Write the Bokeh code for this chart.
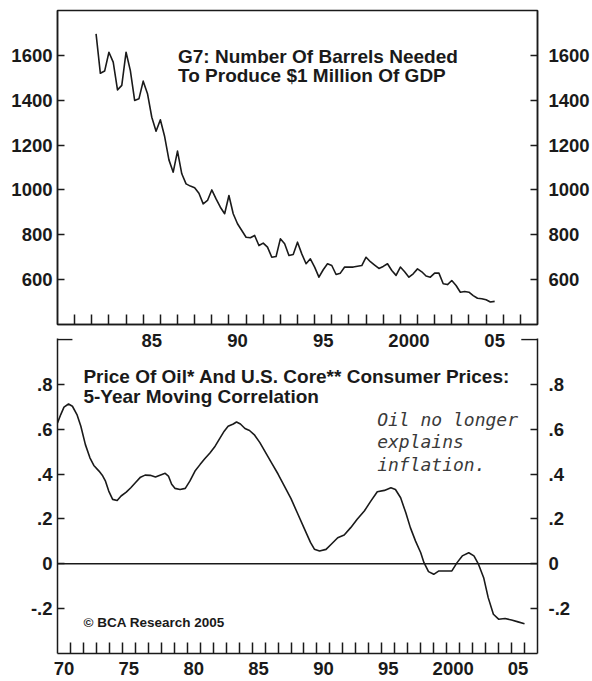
from bokeh.plotting import figure
from bokeh.models import FixedTicker, LinearAxis, Range1d, Span, Label
from bokeh.layouts import column
from bokeh.embed import file_html
from bokeh.resources import INLINE

# ---------------- data ----------------
# G7 barrels of oil needed per $1 million of GDP (quarterly, from 1982 Q2)
barrels_first_year = 1982.25
barrels = [1696, 1520, 1530,
           1614, 1570, 1446, 1466,
           1614, 1532, 1399, 1406,
           1485, 1429, 1324, 1262,
           1313, 1238, 1134, 1079,
           1173, 1072, 1027, 1017,
           1010, 985, 938, 953,
           1000, 960, 923, 894,
           975, 894, 849, 819,
           789, 787, 797, 752,
           763, 745, 700, 703,
           782, 760, 708, 712,
           767, 715, 671, 693,
           656, 611, 644, 671,
           663, 623, 629, 656,
           656, 656, 660, 663,
           700, 680, 665, 650,
           659, 671, 641, 619,
           656, 635, 611, 626,
           648, 635, 616, 611,
           629, 629, 582, 578,
           596, 574, 544, 547,
           544, 529, 517, 515,
           510, 500, 503]
barrels_years = [barrels_first_year + 0.25 * i for i in range(len(barrels))]

# 5-year moving correlation, oil price vs US core CPI
corr_years = [1970.0, 1970.25, 1970.5, 1970.85, 1971.15, 1971.5, 1971.8, 1972.15, 1972.5, 1972.8,
              1973.2, 1973.45, 1973.7, 1973.95, 1974.25, 1974.6, 1974.9, 1975.3, 1975.65, 1976.0,
              1976.4, 1976.75, 1977.15, 1977.55, 1977.9, 1978.3, 1978.55, 1978.8, 1979.05, 1979.45,
              1979.85, 1980.2, 1980.6, 1981.0, 1981.35, 1981.75, 1982.15, 1982.5, 1982.85, 1983.15,
              1983.55, 1983.8, 1984.1, 1984.45, 1984.8, 1985.2, 1985.6, 1986.0, 1986.5, 1987.0,
              1987.5, 1988.0, 1988.5, 1989.0, 1989.5, 1989.8, 1990.2, 1990.7, 1991.1, 1991.6,
              1992.1, 1992.6, 1993.1, 1993.65, 1994.15, 1994.65, 1995.2, 1995.7, 1996.05, 1996.45,
              1996.85, 1997.2, 1997.6, 1998.0, 1998.25, 1998.6, 1999.0, 1999.4, 1999.8, 2000.4,
              2000.8, 2001.2, 2001.7, 2002.1, 2002.45, 2002.85, 2003.2, 2003.6, 2004.0, 2004.5,
              2005.0, 2005.5, 2006.0]
corr_values = [0.628, 0.665, 0.698, 0.712, 0.702, 0.665, 0.613, 0.531, 0.472, 0.438,
               0.413, 0.395, 0.368, 0.324, 0.287, 0.282, 0.302, 0.319, 0.339, 0.361,
               0.386, 0.395, 0.394, 0.387, 0.395, 0.403, 0.391, 0.354, 0.336, 0.331,
               0.336, 0.368, 0.413, 0.443, 0.468, 0.494, 0.524, 0.558, 0.591, 0.613,
               0.623, 0.632, 0.623, 0.603, 0.594, 0.573, 0.540, 0.500, 0.450, 0.400,
               0.345, 0.290, 0.225, 0.160, 0.095, 0.065, 0.057, 0.064, 0.087, 0.116,
               0.128, 0.161, 0.198, 0.235, 0.279, 0.321, 0.327, 0.339, 0.331, 0.294,
               0.227, 0.161, 0.101, 0.049, 0.005, -0.035, -0.047, -0.032, -0.032, -0.032,
               0.005, 0.035, 0.049, 0.035, -0.002, -0.062, -0.151, -0.225, -0.247, -0.244,
               -0.251, -0.259, -0.267]

# axes: tick labels sit in the middle of each labelled year
top_label_years = [1985, 1990, 1995, 2000, 2005]
top_labels = ["85", "90", "95", "2000", "05"]
bot_label_years = [1970, 1975, 1980, 1985, 1990, 1995, 2000, 2005]
bot_labels = ["70", "75", "80", "85", "90", "95", "2000", "05"]
top_yticks = [600, 800, 1000, 1200, 1400, 1600]
bot_yticks = [-0.2, 0.0, 0.2, 0.4, 0.6, 0.8]
bot_ylabels = ["-.2", "0", ".2", ".4", ".6", ".8"]

top_title = ["G7: Number Of Barrels Needed", "To Produce $1 Million Of GDP"]
bot_title = ["Price Of Oil* And U.S. Core** Consumer Prices:", "5-Year Moving Correlation"]
note = ["Oil no longer", "explains", "inflation."]
credit = "\u00a9 BCA Research 2005"

FONT = "Liberation Sans"
INK = "#1a1a1a"
TICK_SIZE = "18.5px"


def style_axis(ax):
    ax.axis_line_color = INK
    ax.axis_line_width = 1.5
    ax.major_label_text_font = FONT
    ax.major_label_text_font_style = "bold"
    ax.major_label_text_font_size = TICK_SIZE
    ax.major_label_text_color = INK
    ax.major_tick_line_color = INK
    ax.major_tick_line_width = 1.5
    ax.minor_tick_line_color = INK
    ax.minor_tick_line_width = 1.5
    ax.major_tick_out = 0
    ax.minor_tick_out = 0


# ---------------- top panel ----------------
top = figure(width=592, height=364, x_range=Range1d(1980, 2008), y_range=Range1d(400, 1800),
             output_backend="svg", toolbar_location=None,
             min_border_left=57, min_border_right=53, min_border_top=10, min_border_bottom=40)
top.grid.visible = False
top.outline_line_color = INK
top.outline_line_width = 1.5
top.outline_line_alpha = 1.0
top.background_fill_color = "white"
top.border_fill_color = "white"

top.line(barrels_years, barrels, line_color=INK, line_width=1.6, line_join="round")

tx = top.xaxis[0]
tx.ticker = FixedTicker(ticks=[y + 0.5 for y in top_label_years],
                        minor_ticks=list(range(1981, 2008)))
tx.major_label_overrides = {y + 0.5: lab for y, lab in zip(top_label_years, top_labels)}
style_axis(tx)
tx.major_tick_in = 0
tx.minor_tick_in = 10
tx.major_label_standoff = 9

ty = top.yaxis[0]
ty.ticker = FixedTicker(ticks=top_yticks)
style_axis(ty)
ty.major_tick_in = 7
ty.minor_tick_in = 0
ty.major_label_standoff = 5

ty2 = LinearAxis(ticker=FixedTicker(ticks=top_yticks))
style_axis(ty2)
ty2.major_tick_in = 7
ty2.minor_tick_in = 0
ty2.major_label_standoff = 11
top.add_layout(ty2, "right")

for i, txt in enumerate(top_title):
    top.add_layout(Label(x=1987.03, y=1596 - 85 * i, text=txt, text_font=FONT,
                         text_font_style="bold", text_font_size="19px", text_color=INK,
                         text_baseline="alphabetic", text_align="left"))

# ---------------- bottom panel ----------------
bot = figure(width=592, height=347, x_range=Range1d(1970, 2007), y_range=Range1d(-0.4, 1.004),
             output_backend="svg", toolbar_location=None,
             min_border_left=57, min_border_right=53, min_border_top=4, min_border_bottom=28,
             margin=(-30, 0, -2, 0))
bot.grid.visible = False
bot.outline_line_color = None
bot.background_fill_alpha = 0
bot.border_fill_alpha = 0

bot.add_layout(Span(location=0, dimension="width", line_color=INK, line_width=1.3))
bot.line(corr_years, corr_values, line_color=INK, line_width=1.6, line_join="round")

# short corner pieces of the top border (the middle is left open for the labels above)
x0, x1 = bot.x_range.start, bot.x_range.end
bot.segment(x0=[x0, x1 - 1.25], y0=[1.0, 1.0], x1=[x0 + 1.15, x1], y1=[1.0, 1.0],
            line_color=INK, line_width=1.5)

bx = bot.xaxis[0]
bx.ticker = FixedTicker(ticks=[y + 0.5 for y in bot_label_years],
                        minor_ticks=list(range(1971, 2007)))
bx.major_label_overrides = {y + 0.5: lab for y, lab in zip(bot_label_years, bot_labels)}
style_axis(bx)
bx.major_tick_in = 0
bx.minor_tick_in = 11
bx.major_label_standoff = 8

by = bot.yaxis[0]
by.ticker = FixedTicker(ticks=bot_yticks)
by.major_label_overrides = dict(zip(bot_yticks, bot_ylabels))
style_axis(by)
by.major_tick_in = 7
by.minor_tick_in = 0
by.major_label_standoff = 5

by2 = LinearAxis(ticker=FixedTicker(ticks=bot_yticks))
by2.major_label_overrides = dict(zip(bot_yticks, bot_ylabels))
style_axis(by2)
by2.major_tick_in = 7
by2.minor_tick_in = 0
by2.major_label_standoff = 11
bot.add_layout(by2, "right")

for i, txt in enumerate(bot_title):
    bot.add_layout(Label(x=1972.0, y=0.835 - 0.089 * i, text=txt, text_font=FONT,
                         text_font_style="bold", text_font_size="19px", text_color=INK,
                         text_baseline="alphabetic", text_align="left"))

for i, txt in enumerate(note):
    bot.add_layout(Label(x=1994.64, y=0.644 - 0.1 * i, text=txt, text_font="DejaVu Sans Mono",
                         text_font_style="italic", text_font_size="18px", text_color="#3a3a3a",
                         text_baseline="alphabetic", text_align="left"))

bot.add_layout(Label(x=1972.0, y=-0.262, text=credit, text_font=FONT, text_font_style="bold",
                     text_font_size="13.5px", text_color=INK, text_baseline="alphabetic",
                     text_align="left"))

layout = column(top, bot, spacing=0)

with open("out.html", "w") as f:
    f.write(file_html(layout, INLINE))
